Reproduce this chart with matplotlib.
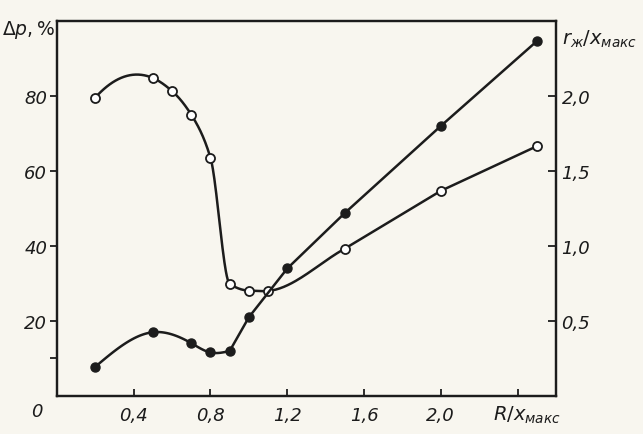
import numpy as np
import matplotlib
matplotlib.use('Agg')
import matplotlib.pyplot as plt
import matplotlib.transforms as mtransforms

# ---------------- data ----------------
x_open = [0.2, 0.5, 0.6, 0.7, 0.8, 0.9, 1.0, 1.1, 1.5, 2.0, 2.5]
dp_open = [79.6, 84.8, 81.3, 75.0, 63.5, 29.9, 28.1, 28.0, 39.3, 54.7, 66.6]   # Δp, %
n_smooth_open = 9     # first points joined by a smooth curve

x_fill = [0.2, 0.5, 0.7, 0.8, 0.9, 1.0, 1.2, 1.5, 2.0, 2.5]
r_fill = [0.195, 0.425, 0.352, 0.29, 0.30, 0.525, 0.85, 1.22, 1.80, 2.365]    # r_ж/x_макс
n_smooth_fill = 5

x_ticks = [0.4, 0.8, 1.2, 1.6, 2.0, 2.4]
x_ticklabels = ['0,4', '0,8', '1,2', '1,6', '2,0', '']
y_left_ticks = [10, 20, 40, 60, 80]
y_left_labels = ['', '20', '40', '60', '80']
y_right_ticks = [0.5, 1.0, 1.5, 2.0]
y_right_labels = ['0,5', '1,0', '1,5', '2,0']

plt.rcParams['font.family'] = ['DejaVu Sans']

INK = '#1c1c1c'
PAPER = '#f8f6ef'


def natural_spline(xs, ys, num=30):
    xs = np.asarray(xs, float); ys = np.asarray(ys, float)
    n = len(xs)
    h = np.diff(xs)
    A = np.zeros((n, n)); b = np.zeros(n)
    A[0, 0] = A[-1, -1] = 1
    for i in range(1, n - 1):
        A[i, i - 1] = h[i - 1]
        A[i, i] = 2 * (h[i - 1] + h[i])
        A[i, i + 1] = h[i]
        b[i] = 6 * ((ys[i + 1] - ys[i]) / h[i] - (ys[i] - ys[i - 1]) / h[i - 1])
    M = np.linalg.solve(A, b)
    ox, oy = [], []
    for i in range(n - 1):
        t = np.linspace(xs[i], xs[i + 1], num, endpoint=(i == n - 2))
        a = xs[i + 1] - t; c = t - xs[i]
        y = (M[i] * a ** 3 + M[i + 1] * c ** 3) / (6 * h[i]) \
            + (ys[i] / h[i] - M[i] * h[i] / 6) * a + (ys[i + 1] / h[i] - M[i + 1] * h[i] / 6) * c
        ox.extend(t); oy.extend(y)
    return np.array(ox), np.array(oy)


def hermite(xs, ys, num=40):
    """Cubic Hermite: monotone (Fritsch-Carlson) slopes where the data are
    monotone, weighted central slopes at turning points."""
    xs = np.asarray(xs, float); ys = np.asarray(ys, float)
    h = np.diff(xs); d = np.diff(ys) / h
    n = len(xs)
    m = np.zeros(n)
    for i in range(1, n - 1):
        if d[i - 1] * d[i] > 0:
            w1 = 2 * h[i] + h[i - 1]; w2 = h[i] + 2 * h[i - 1]
            m[i] = (w1 + w2) / (w1 / d[i - 1] + w2 / d[i])
        else:
            m[i] = (d[i - 1] * h[i] + d[i] * h[i - 1]) / (h[i - 1] + h[i])
    m[0] = ((2 * h[0] + h[1]) * d[0] - h[0] * d[1]) / (h[0] + h[1])
    m[-1] = d[-1]
    ox, oy = [], []
    for i in range(n - 1):
        t = np.linspace(0, 1, num, endpoint=(i == n - 2))
        h00 = 2 * t**3 - 3 * t**2 + 1; h10 = t**3 - 2 * t**2 + t
        h01 = -2 * t**3 + 3 * t**2; h11 = t**3 - t**2
        ox.extend(xs[i] + t * h[i])
        oy.extend(h00 * ys[i] + h10 * h[i] * m[i] + h01 * ys[i + 1] + h11 * h[i] * m[i + 1])
    return np.array(ox), np.array(oy)


def curve(xs, ys, ns, fn):
    sx, sy = fn(xs[:ns], ys[:ns])
    return np.concatenate([sx, xs[ns:]]), np.concatenate([sy, ys[ns:]])


fig = plt.figure(figsize=(6.43, 4.35), dpi=100, facecolor=PAPER)
ax = fig.add_axes([0.0886, 0.0874, 0.776, 0.862])
ax.set_facecolor(PAPER)
ax2 = ax.twinx()

ax.set_xlim(0, 2.6)
ax.set_ylim(0, 100)
ax2.set_ylim(0, 2.5)

cx, cy = curve(x_open, dp_open, n_smooth_open, hermite)
ax.plot(cx, cy, color=INK, lw=1.8, zorder=3)
ax.plot(x_open, dp_open, 'o', ms=6.5, mfc='white', mec=INK, mew=1.3, zorder=4)

fx, fy = curve(x_fill, r_fill, n_smooth_fill, natural_spline)
ax2.plot(fx, fy, color=INK, lw=1.8, zorder=3)
ax2.plot(x_fill, r_fill, 'o', ms=6.5, mfc=INK, mec=INK, zorder=4)

for a in (ax, ax2):
    for s in a.spines.values():
        s.set_color(INK); s.set_linewidth(1.6)

ax.set_xticks(x_ticks)
ax.set_xticklabels(x_ticklabels)
ax.set_yticks(y_left_ticks)
ax.set_yticklabels(y_left_labels)
ax.tick_params(axis='x', direction='in', length=5, width=1.3, color=INK, pad=7,
               labelsize=13, labelcolor=INK)
ax.tick_params(axis='y', direction='out', length=5, width=1.3, color=INK, pad=2,
               labelsize=13, labelcolor=INK)
ax2.set_yticks(y_right_ticks)
ax2.set_yticklabels(y_right_labels)
ax2.tick_params(axis='y', direction='in', length=6, width=1.3, color=INK, pad=4,
                labelsize=13, labelcolor=INK)
for lab in ax.get_xticklabels() + ax.get_yticklabels() + ax2.get_yticklabels():
    lab.set_style('italic')

ax.text(-0.04, -0.04, '0', transform=ax.transAxes, ha='center', va='center',
        fontsize=13, style='italic', color=INK)
ax.text(-0.003, 0.978, r'$\Delta p,\%$', transform=ax.transAxes, ha='right', va='center',
        fontsize=13.5, color=INK)
ax.text(1.012, 0.955, r'$r_{ж}/x_{макс}$', transform=ax.transAxes, ha='left', va='center',
        fontsize=14, color=INK)
tr = mtransforms.blended_transform_factory(ax.transData, ax.transAxes)
ax.text(2.27, -0.05, r'$R/x_{макс}$', transform=tr, ha='left', va='center',
        fontsize=14, color=INK)

fig.savefig('out.png', dpi=100, facecolor=PAPER)
